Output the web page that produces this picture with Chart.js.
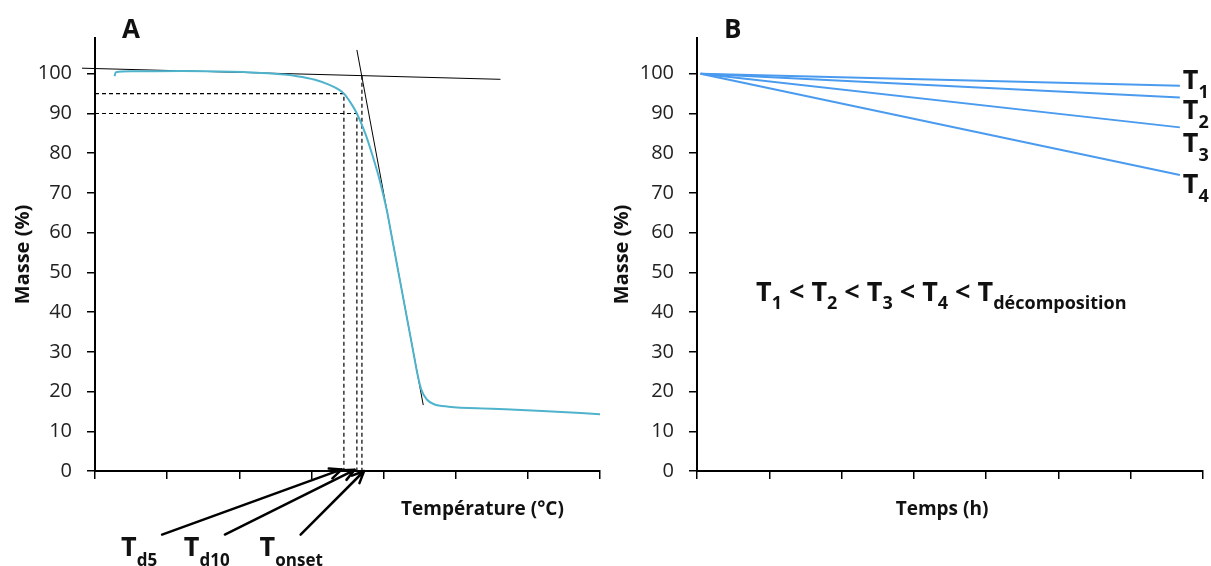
<!DOCTYPE html>
<html>
<head>
<meta charset="utf-8">
<script src="https://cdn.jsdelivr.net/npm/chart.js@4.4.1/dist/chart.umd.min.js"></script>
<style>
  body { margin: 0; background: #fff; }
  #cadre { position: relative; width: 1211px; height: 566px; }
  .panneau { position: absolute; top: 0; height: 566px; }
</style>
</head>
<body>
<div id="cadre">
  <div class="panneau" style="left:0;width:605px"><canvas id="grapheA"></canvas></div>
  <div class="panneau" style="left:605px;width:606px"><canvas id="grapheB"></canvas></div>
</div>
<script>
/* ---- données ---- */
const graduationsY = [0, 10, 20, 30, 40, 50, 60, 70, 80, 90, 100];
const graduationsX = [0, 1, 2, 3, 4, 5, 6, 7];

// A : courbe ATG
const temperatureA = [0.27, 0.29, 0.5, 1.2, 1.9, 2.4, 2.8, 3.05, 3.25, 3.38, 3.45, 3.54, 3.63, 3.746, 3.837, 3.919, 3.99, 4.052, 4.103, 4.155, 4.206, 4.309, 4.412, 4.463, 4.52, 4.6, 4.7, 4.9, 5.5, 6.2, 7.0];
const masseA       = [99.4, 100.4, 100.6, 100.7, 100.5, 100.1, 99.4, 98.5, 97.2, 96.0, 95.0, 92.8, 90.0, 85.0, 80.0, 75.0, 70.0, 65.0, 60.0, 55.0, 50.0, 40.0, 30.0, 25.0, 20.6, 18.0, 16.8, 16.2, 15.7, 15.1, 14.3];

// tangentes
const ligneBaseX = [-0.18, 5.62];
const ligneBaseY = [101.4, 98.6];
const tangenteX  = [3.63, 4.55];
const tangenteY  = [106.0, 16.6];

// températures caractéristiques [x, masse]
const td5    = [3.45, 95];
const td10   = [3.63, 90];
const tonset = [3.70, 99.5];

// flèches sous l'axe
const flechesDepartX = [0.93, 1.80, 2.85];
const flechesDepartY = [-16, -16, -16];
const flechesPointeX = [3.42, 3.60, 3.73];
const flechesPointeY = [0.4, 0.3, 0];
const etiquettesA    = [["T", "d5"], ["T", "d10"], ["T", "onset"]];

// B : isothermes
const tempsB  = [0.05, 6.68];
const masseT1 = [100, 97.0];
const masseT2 = [100, 94.0];
const masseT3 = [100, 86.5];
const masseT4 = [100, 74.5];
const etiquettesB = ["1", "2", "3", "4"];

const POLICE = "'Open Sans', sans-serif";
const NOIR = "#111";

function points(xs, ys) { return xs.map((v, i) => ({ x: v, y: ys[i] })); }

function texteIndice(ctx, x, y, principal, indice, taille, tailleIndice, decalage) {
  ctx.font = `bold ${taille}px ${POLICE}`;
  ctx.fillText(principal, x, y);
  const w = ctx.measureText(principal).width;
  ctx.font = `bold ${tailleIndice}px ${POLICE}`;
  ctx.fillText(indice, x + w, y + decalage);
  return x + w + ctx.measureText(indice).width;
}

function optionsPanneau(padG, largeurY, padD) {
  const grille = { drawOnChartArea: false, drawTicks: true, tickLength: 8, color: "#000", lineWidth: 1.5 };
  const bord = { color: "#000", width: 2 };
  return {
    responsive: true,
    maintainAspectRatio: false,
    animation: false,
    layout: { padding: { left: padG, right: padD, top: 38, bottom: 0 } },
    plugins: { legend: { display: false }, tooltip: { enabled: false } },
    elements: { point: { radius: 0 } },
    scales: {
      x: {
        type: "linear", min: 0, max: 7,
        afterBuildTicks: s => { s.ticks = graduationsX.map(v => ({ value: v })); },
        afterFit: s => { s.height = 95; },
        ticks: { display: false },
        grid: grille,
        border: bord
      },
      y: {
        min: 0, max: 109,
        afterBuildTicks: s => { s.ticks = graduationsY.map(v => ({ value: v })); },
        afterFit: s => { s.width = largeurY; },
        ticks: { padding: 15, color: "#222", font: { family: POLICE, size: 20 } },
        grid: grille,
        border: bord,
        title: { display: true, text: "Masse (%)", color: NOIR, padding: 0,
                 font: { family: POLICE, size: 20, weight: "bold" } }
      }
    }
  };
}

/* ---- panneau A ---- */
const tirets = { borderColor: "#000", borderWidth: 1.2, borderDash: [4, 3], fill: false };
const trait  = { borderColor: "#000", borderWidth: 1, fill: false, clip: false };

const annotationsA = {
  id: "annotationsA",
  afterDatasetsDraw(chart) {
    const { ctx, scales: { x, y } } = chart;
    ctx.save();
    ctx.fillStyle = NOIR;
    ctx.strokeStyle = "#000";
    ctx.lineWidth = 2.5;
    ctx.lineCap = "round";
    flechesDepartX.forEach((x0, i) => {
      const ax = x.getPixelForValue(x0), ay = y.getPixelForValue(flechesDepartY[i]);
      const bx = x.getPixelForValue(flechesPointeX[i]), by = y.getPixelForValue(flechesPointeY[i]);
      const ang = Math.atan2(by - ay, bx - ax);
      ctx.beginPath();
      ctx.moveTo(ax, ay);
      ctx.lineTo(bx, by);
      for (const s of [-1, 1]) {
        ctx.moveTo(bx, by);
        ctx.lineTo(bx - 13 * Math.cos(ang + s * 0.42), by - 13 * Math.sin(ang + s * 0.42));
      }
      ctx.stroke();
      texteIndice(ctx, ax - 41, ay + 21, etiquettesA[i][0], etiquettesA[i][1], 27, 17, 10);
    });
    ctx.font = `bold 26px ${POLICE}`;
    ctx.fillText("A", chart.chartArea.left + 27, 38);
    ctx.font = `bold 19px ${POLICE}`;
    ctx.fillText("Température (°C)", 401, 515);
    ctx.restore();
  }
};

new Chart(document.getElementById("grapheA"), {
  type: "line",
  data: {
    datasets: [
      { data: points(temperatureA, masseA), borderColor: "#4FB3CC", borderWidth: 2, cubicInterpolationMode: "monotone", fill: false },
      { data: points(ligneBaseX, ligneBaseY), ...trait },
      { data: points(tangenteX, tangenteY), ...trait },
      { data: [{ x: 0, y: td5[1] }, { x: td5[0], y: td5[1] }, { x: td5[0], y: 0 }], ...tirets },
      { data: [{ x: 0, y: td10[1] }, { x: td10[0], y: td10[1] }, { x: td10[0], y: 0 }], ...tirets },
      { data: [{ x: tonset[0], y: tonset[1] }, { x: tonset[0], y: 0 }], ...tirets }
    ]
  },
  options: optionsPanneau(11, 84, 5),
  plugins: [annotationsA]
});

/* ---- panneau B ---- */
const decalagesB = [3, 21, 25, 18];

const annotationsB = {
  id: "annotationsB",
  afterDatasetsDraw(chart) {
    const { ctx } = chart;
    ctx.save();
    ctx.fillStyle = NOIR;
    chart.data.datasets.forEach((ds, i) => {
      const fin = chart.getDatasetMeta(i).data[ds.data.length - 1];
      texteIndice(ctx, fin.x + 3, fin.y + decalagesB[i], "T", etiquettesB[i], 27, 18, 9);
    });
    let xt = 151;
    const morceaux = [["T", "1"], [" < T", "2"], [" < T", "3"], [" < T", "4"], [" < T", "décomposition"]];
    morceaux.forEach(([p, s]) => { xt = texteIndice(ctx, xt, 301, p, s, 27, 18, 8); });
    ctx.font = `bold 26px ${POLICE}`;
    ctx.fillText("B", chart.chartArea.left + 27, 38);
    ctx.font = `bold 19px ${POLICE}`;
    ctx.textAlign = "center";
    ctx.fillText("Temps (h)", 337, 515);
    ctx.restore();
  }
};

const styleB = { borderColor: "#4A9BEF", borderWidth: 2, fill: false };
new Chart(document.getElementById("grapheB"), {
  type: "line",
  data: {
    datasets: [
      { data: points(tempsB, masseT1), ...styleB },
      { data: points(tempsB, masseT2), ...styleB },
      { data: points(tempsB, masseT3), ...styleB },
      { data: points(tempsB, masseT4), ...styleB }
    ]
  },
  options: optionsPanneau(5, 87, 8),
  plugins: [annotationsB]
});
</script>
</body>
</html>
